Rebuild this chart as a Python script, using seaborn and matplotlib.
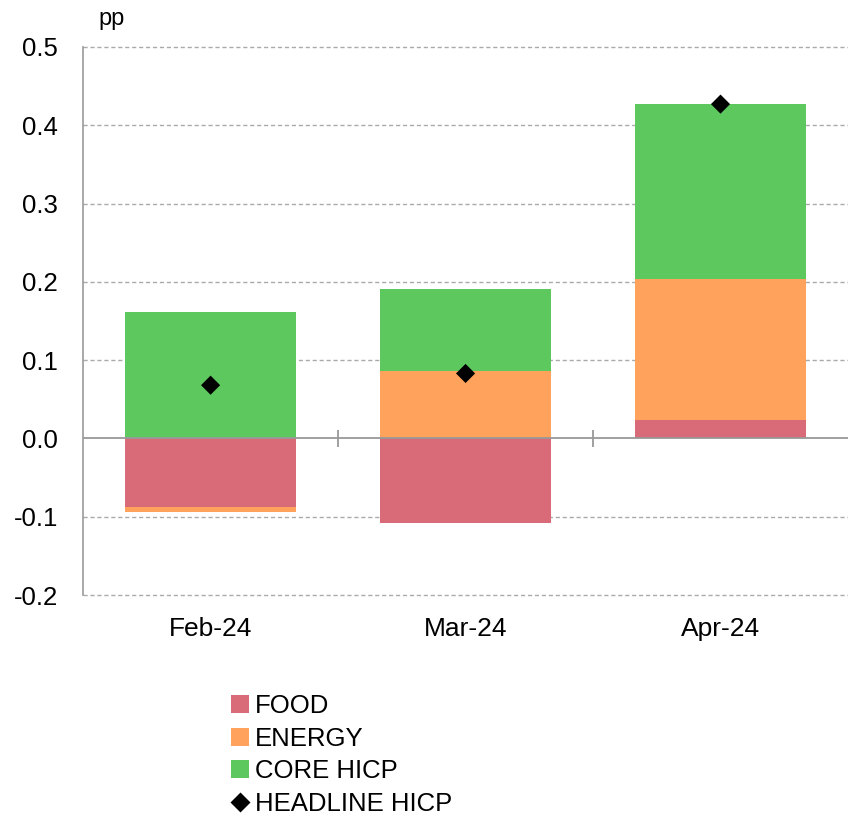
import numpy as np
import pandas as pd
import matplotlib
matplotlib.use("Agg")
import matplotlib.pyplot as plt
from matplotlib.patches import Patch
from matplotlib.lines import Line2D
import seaborn as sns

# Contributions to monthly HICP change, percentage points
months = ["Feb-24", "Mar-24", "Apr-24"]
food = [-0.088, -0.108, 0.024]
energy = [-0.006, 0.086, 0.179]
core = [0.162, 0.105, 0.224]
headline = [0.068, 0.083, 0.427]

series_names = ["FOOD", "ENERGY", "CORE HICP"]
series_colors = ["#D96B78", "#FFA35C", "#5CC85E"]

sns.set_theme(style="white")
plt.rcParams["font.family"] = ["Liberation Sans", "DejaVu Sans"]
plt.rcParams["text.color"] = "black"

# Diverging stack: positive parts pile upward, negative parts downward
stack = np.array([food, energy, core])
pos_cum = np.cumsum(np.clip(stack, 0, None), axis=0)
neg_cum = np.cumsum(np.clip(stack, None, 0), axis=0)
ends = np.where(stack >= 0, pos_cum, neg_cum)

fig = plt.figure(figsize=(8.48, 8.18), dpi=100)
ax = fig.add_axes([0.098, 0.2726, 0.902, 0.67])

# Draw outermost segment first so inner segments sit on top
for i in reversed(range(len(series_names))):
    df = pd.DataFrame({"month": months, "value": ends[i]})
    sns.barplot(data=df, x="month", y="value", order=months,
                color=series_colors[i], saturation=1, width=0.67,
                edgecolor="none", linewidth=0, ax=ax, zorder=2)

hdf = pd.DataFrame({"month": months, "value": headline})
sns.scatterplot(data=hdf, x="month", y="value", marker="D", color="black",
                s=95, edgecolor="none", ax=ax, zorder=4, legend=False)

ax.set_xlim(-0.5, 2.5)
ax.set_ylim(-0.2, 0.5)
yt = np.round(np.arange(-0.2, 0.51, 0.1), 1)
ax.set_yticks(yt)
ax.set_yticklabels([f"{v:.1f}" for v in yt], fontsize=18.5, color="black")
ax.tick_params(axis="y", length=0, pad=18)
ax.tick_params(axis="x", length=0, pad=16, labelsize=19, labelcolor="black")
ax.set_xlabel("")
ax.set_ylabel("")

# Dashed grid except at zero, which gets a solid baseline with separators
for v in yt:
    if v != 0:
        ax.axhline(v, color="#AAAAAA", linestyle=(0, (3, 2)), linewidth=1,
                   zorder=1, clip_on=False)
ax.axhline(0, color="#999999", linewidth=1.3, zorder=3)
ax.vlines([0.5, 1.5], -0.011, 0.011, color="#999999", linewidth=1.3, zorder=3)

for side in ["top", "right", "bottom"]:
    ax.spines[side].set_visible(False)
ax.spines["left"].set_color("#999999")
ax.spines["left"].set_linewidth(1.2)

fig.text(0.116, 0.977, "pp", fontsize=17, ha="left", va="center")

handles = [Patch(facecolor=c, edgecolor="none") for c in series_colors]
handles.append(Line2D([0], [0], marker="D", color="none", markerfacecolor="black",
                      markeredgecolor="none", markersize=10))
fig.legend(handles, series_names + ["HEADLINE HICP"], loc="upper left",
           bbox_to_anchor=(0.272, 0.151), frameon=False, fontsize=18.5,
           handlelength=0.7, handleheight=0.7, handletextpad=0.25,
           labelspacing=0.33, borderpad=0, borderaxespad=0)

fig.savefig("out.png", dpi=100)
